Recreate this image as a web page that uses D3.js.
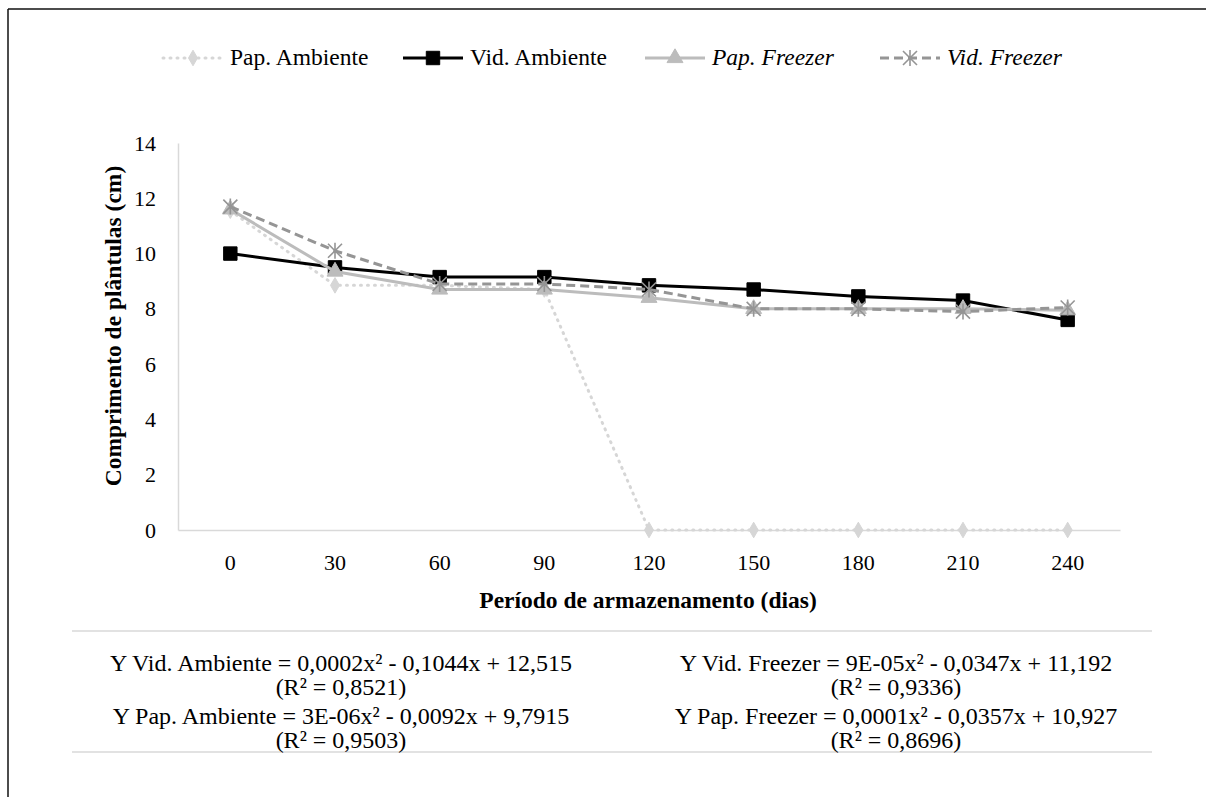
<!DOCTYPE html>
<html>
<head>
<meta charset="utf-8">
<script src="https://cdn.jsdelivr.net/npm/d3@7"></script>
</head>
<body style="margin:0">
<svg id="chart" width="1206" height="797"></svg>
<script>
// storage period (days)
var periods = ["0", "30", "60", "90", "120", "150", "180", "210", "240"];
var yTicks = [0, 2, 4, 6, 8, 10, 12, 14];

// seedling length (cm)
var papAmbiente = [11.55, 8.85, 8.85, 8.7, 0, 0, 0, 0, 0];
var vidAmbiente = [10.0, 9.5, 9.15, 9.15, 8.85, 8.7, 8.45, 8.3, 7.6];
var papFreezer  = [11.6, 9.35, 8.7, 8.7, 8.4, 8.0, 8.0, 8.0, 7.95];
var vidFreezer  = [11.7, 10.1, 8.9, 8.9, 8.7, 8.0, 8.0, 7.9, 8.05];

var seriesNames = ["Pap. Ambiente", "Vid. Ambiente", "Pap. Freezer", "Vid. Freezer"];

var equations = [
  ["Y Vid. Ambiente = 0,0002x² - 0,1044x + 12,515", "(R² = 0,8521)",
   "Y Pap. Ambiente = 3E-06x² - 0,0092x + 9,7915", "(R² = 0,9503)"],
  ["Y Vid. Freezer = 9E-05x² - 0,0347x + 11,192", "(R² = 0,9336)",
   "Y Pap. Freezer = 0,0001x² - 0,0357x + 10,927", "(R² = 0,8696)"]
];

var FONT = "'Liberation Serif'";

var svg = d3.select("#chart");

// outer frame (top + left only visible)
svg.append("line").attr("x1", 8).attr("x2", 1206).attr("y1", 9).attr("y2", 9)
    .attr("stroke", "#111").attr("stroke-width", 1.5);
svg.append("line").attr("x1", 8).attr("x2", 8).attr("y1", 9).attr("y2", 797)
    .attr("stroke", "#111").attr("stroke-width", 1.5);

var x = d3.scaleBand().domain(periods).range([178, 1120]).padding(0);
var y = d3.scaleLinear().domain([0, 14]).range([530, 143]);

var styles = [
  {data: papAmbiente, color: "#d6d6d6", width: 3, dash: "1,6", cap: "round", marker: "diamond", italic: false},
  {data: vidAmbiente, color: "#000000", width: 3, dash: null, cap: "butt", marker: "square", italic: false},
  {data: papFreezer,  color: "#bcbcbc", width: 3, dash: null, cap: "butt", marker: "triangle", italic: true},
  {data: vidFreezer,  color: "#959595", width: 3, dash: "9,5", cap: "butt", marker: "star", italic: true}
];

// axes
var gx = svg.append("g").attr("transform", "translate(0," + y(0) + ")")
    .call(d3.axisBottom(x).tickSize(0).tickPadding(24));
gx.select(".domain").attr("stroke", "#d9d9d9").attr("stroke-width", 1.5);
gx.selectAll("text").attr("fill", "#000")
    .style("font-family", FONT).style("font-size", "22px");

var gy = svg.append("g").attr("transform", "translate(178,0)")
    .call(d3.axisLeft(y).tickValues(yTicks).tickSize(0).tickPadding(22));
gy.select(".domain").attr("stroke", "#d9d9d9").attr("stroke-width", 1.5);
gy.selectAll("text").attr("fill", "#000")
    .style("font-family", FONT).style("font-size", "22px");

svg.append("text")
    .attr("x", 648).attr("y", 608)
    .attr("text-anchor", "middle")
    .style("font-family", FONT)
    .style("font-size", "23.5px").style("font-weight", "bold")
    .text("Período de armazenamento (dias)");

svg.append("text")
    .attr("transform", "translate(121,326) rotate(-90)")
    .attr("text-anchor", "middle")
    .style("font-family", FONT)
    .style("font-size", "23.5px").style("font-weight", "bold")
    .text("Comprimento de plântulas (cm)");

function markerPath(type) {
  if (type === "diamond") return d3.symbol().type(d3.symbolDiamond).size(70)();
  if (type === "square") return d3.symbol().type(d3.symbolSquare).size(180)();
  if (type === "triangle") return d3.symbol().type(d3.symbolTriangle).size(110)();
  return null;
}

function drawMarker(g, s, cx, cy) {
  if (s.marker === "star") {
    var r = 7;
    g.append("path")
      .attr("d", "M" + (cx - r) + "," + (cy - r) + "L" + (cx + r) + "," + (cy + r) +
                 "M" + (cx - r) + "," + (cy + r) + "L" + (cx + r) + "," + (cy - r) +
                 "M" + cx + "," + (cy - r - 1) + "L" + cx + "," + (cy + r + 1))
      .attr("stroke", s.color).attr("stroke-width", 1.6).attr("fill", "none");
  } else {
    g.append("path").attr("d", markerPath(s.marker))
      .attr("transform", "translate(" + cx + "," + cy + ")")
      .attr("fill", s.color)
      .attr("stroke", s.marker === "square" ? "#000" : s.color);
  }
}

var line = d3.line()
    .x(function(d, i) { return x(periods[i]) + x.bandwidth() / 2; })
    .y(function(d) { return y(d); });

styles.forEach(function(s) {
  var g = svg.append("g");
  g.append("path").datum(s.data)
    .attr("d", line)
    .attr("fill", "none")
    .attr("stroke", s.color)
    .attr("stroke-width", s.width)
    .attr("stroke-linecap", s.cap)
    .attr("stroke-dasharray", s.dash);
  s.data.forEach(function(v, i) {
    drawMarker(g, s, x(periods[i]) + x.bandwidth() / 2, y(v));
  });
});

// legend
var legendX = [163, 403, 645, 880];
var legendY = 58;
styles.forEach(function(s, i) {
  var g = svg.append("g");
  var x0 = legendX[i];
  g.append("line")
    .attr("x1", x0).attr("x2", x0 + 60)
    .attr("y1", legendY).attr("y2", legendY)
    .attr("stroke", s.color).attr("stroke-width", s.width)
    .attr("stroke-linecap", s.cap)
    .attr("stroke-dasharray", s.dash);
  drawMarker(g, s, x0 + 30, legendY);
  g.append("text")
    .attr("x", x0 + 67).attr("y", legendY + 7)
    .style("font-family", FONT)
    .style("font-size", "23.5px")
    .style("font-style", s.italic ? "italic" : "normal")
    .text(seriesNames[i]);
});

// separators
[631, 752].forEach(function(yy) {
  svg.append("line").attr("x1", 72).attr("x2", 1152).attr("y1", yy).attr("y2", yy)
    .attr("stroke", "#d9d9d9").attr("stroke-width", 1.5);
});

// regression equations
var colX = [341, 896];
var rowY = [671, 695, 724, 748];
equations.forEach(function(col, c) {
  col.forEach(function(t, r) {
    svg.append("text")
      .attr("x", colX[c]).attr("y", rowY[r])
      .attr("text-anchor", "middle")
      .style("font-family", FONT)
      .style("font-size", "24px")
      .text(t);
  });
});
</script>
</body>
</html>
